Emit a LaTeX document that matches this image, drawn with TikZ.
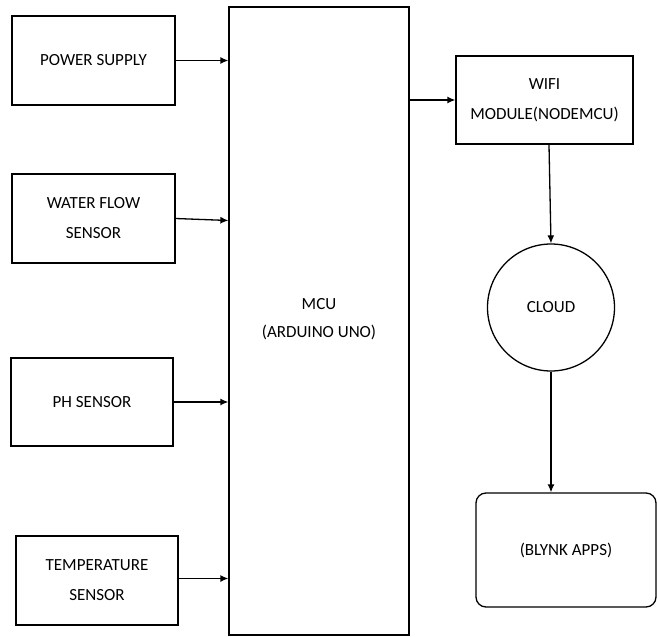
\documentclass[tikz,border=0pt]{standalone}
\usepackage{fontspec}
\setmainfont{Carlito}
\usetikzlibrary{arrows.meta}
\begin{document}
\begin{tikzpicture}[x=1pt,y=-1pt,
  box/.style={draw, line width=1.3pt, inner sep=0pt, align=center, font=\fontsize{17}{30}\selectfont},
  conn/.style={line width=1.3pt, -{Latex[length=8pt,width=7pt]}}]
\useasboundingbox (0,0) rectangle (657,637);
\node[box, minimum width=163pt, minimum height=89pt] (ps) at (93.5,60.5) {POWER SUPPLY};
\node[box, minimum width=163pt, minimum height=89pt] (wf) at (93.5,218.5) {WATER FLOW\\SENSOR};
\node[box, minimum width=162pt, minimum height=88pt] (ph) at (92,402) {PH SENSOR};
\node[box, minimum width=162pt, minimum height=89pt] (tp) at (97,580.5) {TEMPERATURE\\SENSOR};
\node[box, minimum width=180pt, minimum height=628pt] (mcu) at (319,321) {};
\node[font=\fontsize{17}{28}\selectfont, align=center] (mcut) at (319,319) {MCU\\(ARDUINO UNO)};
\node[box, minimum width=177pt, minimum height=88pt] (wifi) at (544.5,100) {WIFI\\MODULE(NODEMCU)};
\node[box, circle, minimum size=127pt] (cloud) at (551,307.5) {CLOUD};
\node[box, rounded corners=10pt, minimum width=180pt, minimum height=114pt] (blynk) at (566,550) {(BLYNK APPS)};
\draw[conn] (ps.east) -- (ps.east -| mcu.west);
\draw[conn] (wf.east) -- ([yshift=-2pt]wf.east -| mcu.west);
\draw[conn] (ph.east) -- (ph.east -| mcu.west);
\draw[conn] ([yshift=2pt]tp.east) -- ([yshift=2pt]tp.east -| mcu.west);
\draw[conn] (wifi.west -| mcu.east) -- (wifi.west);
\draw[conn] ([xshift=4.5pt]wifi.south) -- (cloud.north);
\draw[conn] (cloud.south) -- (cloud.south |- blynk.north);
\end{tikzpicture}
\end{document}
